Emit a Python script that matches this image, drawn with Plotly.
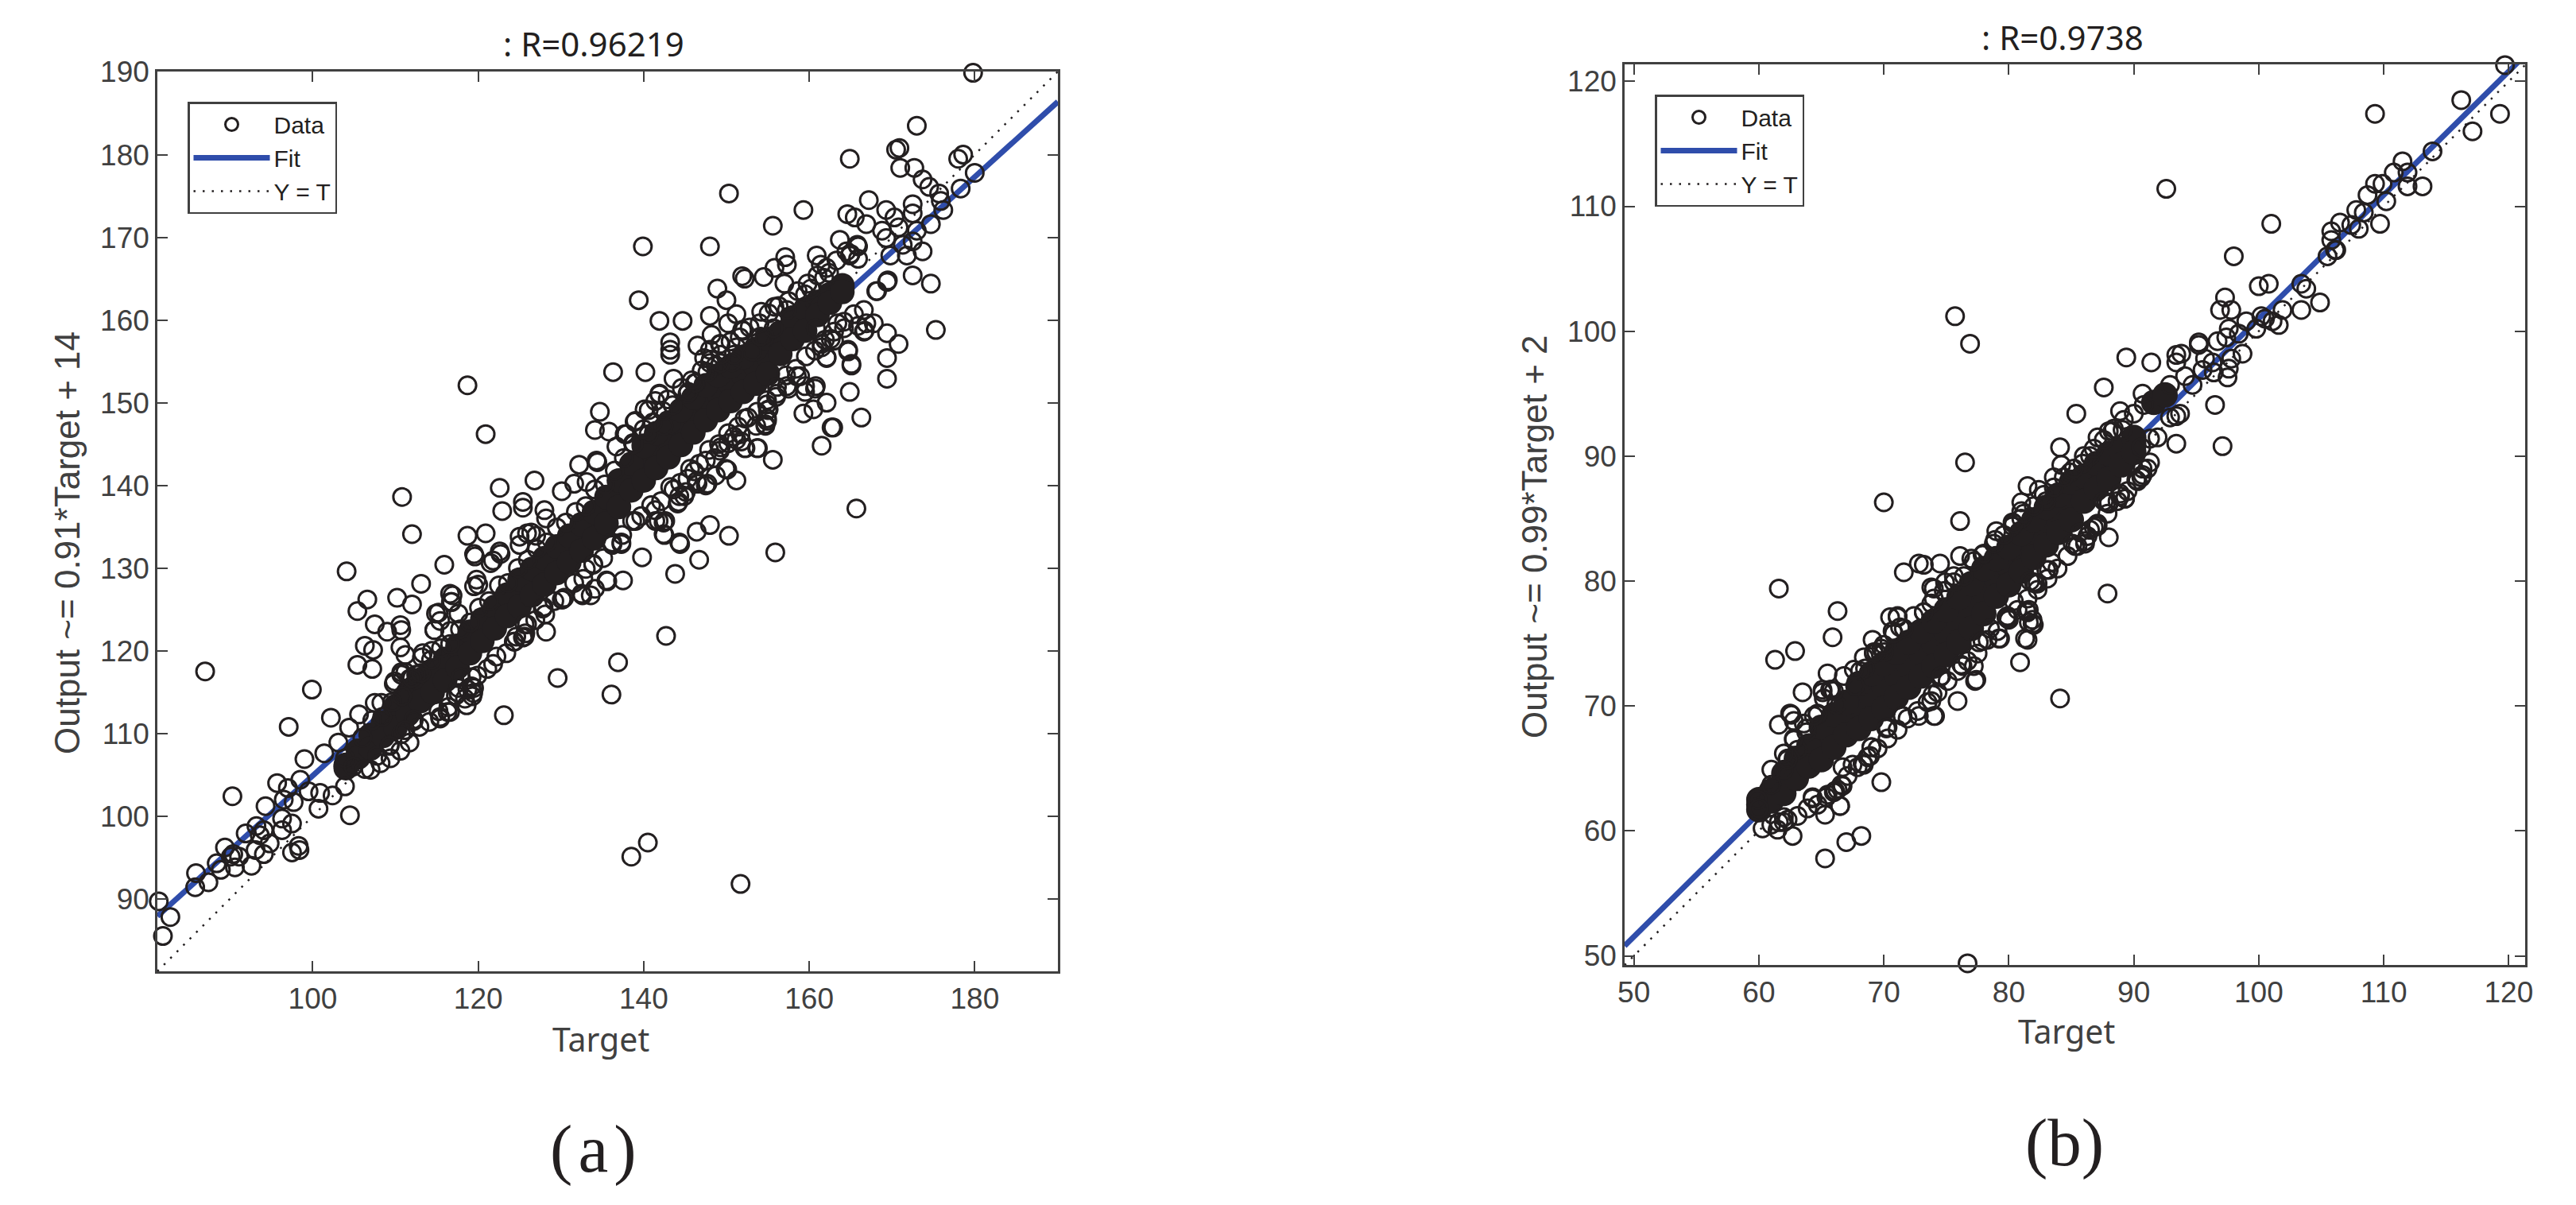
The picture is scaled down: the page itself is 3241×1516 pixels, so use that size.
import plotly.graph_objects as go

W, H = 3241, 1516
PAGE_OFFSET = 8  # the page body margin shifts the figure by this many pixels
INK = "#231f20"
AXIS = "#404040"
BLUE = "#2f4dab"

# ---------- panel (a) values ----------
range_a = [81.23, 190.05]
ticks_a_x = [100, 120, 140, 160, 180]
ticks_a_y = [90, 100, 110, 120, 130, 140, 150, 160, 170, 180, 190]
fit_a_x = [81.23, 190.05]
fit_a_y = [87.9, 186.4]

points_a = [
 (118.7,152.1),(120.9,146.2),(110.8,138.6),(112,134.1),(118.7,133.9),(120.9,134.2),(122.6,139.7),(122.9,136.9),
 (126.8,140.6),(125.4,138),(125.4,137.3),(132.2,142.5),(134.4,142.8),(136.3,153.7),(134.7,148.9),(134.1,146.7),
 (135.8,146.5),(139.4,162.4),(139.9,168.9),(179.8,189.9),(173,183.5),(170.9,180.8),(170.5,180.6),(164.9,179.5),
 (178.6,180),(178,179.5),(180,177.8),(178.3,175.9),(171,178.4),(172.7,178.4),(173.7,177),(174.5,176.1),(175.7,175.3),
 (175.9,174.4),(176.2,173.3),(174.7,171.6),(172.5,174),(172.5,172.9),(167.2,174.5),(169.3,173.3),(164.6,172.8),
 (165.5,172.4),(166.9,171.6),(170.3,172.4),(150.3,175.3),(159.3,173.3),(155.6,171.4),(148,168.9),(163.7,169.7),
 (168.8,170.8),(170.8,171.2),(173,170.8),(165.8,169.1),(173.7,168.3),(169.3,169.9),(171.3,169.1),(172.5,169.5),
 (169.8,167.8),(171.8,167.8),(165.9,167.4),(164.9,167.8),(160.9,167.8),(157.1,167.6),(157.3,166.7),(155.8,166.3),
 (161.4,166.7),(154.5,165.2),(151.9,165.3),(152.2,165),(157,164.4),(148.9,163.8),(150,162.4),(172.5,165.4),
 (174.7,164.4),(169.4,164.6),(168.1,163.5),(175.3,158.8),(169.4,158.4),(170.8,157.1),(169.4,155.4),(169.4,152.9),
 (165.1,154.5),(164.7,156.2),(162.1,155.4),(161.5,156.7),(166.6,158.6),(166.9,159.6),(164.2,159),(163,157.5),
 (160.7,151.7),(159.5,151.3),(164.9,151.3),(162.1,150),(160.5,149.2),(159.3,148.7),(166.3,148.2),(162.9,147),
 (162.7,147),(161.5,144.8),(155.6,143.1),(153.7,144.5),(152.2,144.5),(151.2,145.5),(154.7,147.4),(154.9,148.1),
 (155.1,149.2),(157.5,151.7),(158.5,153.2),(151.2,140.6),(150.1,141.9),(148.7,141.2),(147.7,140.2),(146.5,140.2),
 (165.7,137.2),(148,135.2),(146.4,134.4),(150.3,133.9),(144.3,133.1),(142.5,134),(142.4,135.5),(141.4,135.7),
 (144.1,137.8),(144.9,138.7),(143.6,139.5),(140.2,153.7),(143.6,152.9),(141.9,159.9),(144.7,159.9),(148,160.5),
 (150.2,159.6),(151.2,160.7),(151.9,158.8),(154.2,161),(155.8,161.6),(143.2,157.3),(143.2,156.4),(143.2,155.8),
 (146.5,156.9),(148.2,158.2),(149.2,157.1),(151.2,156.7),(147.3,155.4),(148.7,154.5),(150.7,154.9),(153.1,156.2),
 (154.6,157.9),(141.9,151.1),(145.3,151.1),(140.1,149.2),(141.4,150.2),(146.3,152.4),(147.7,153.7),(137.7,146.2),
 (138.9,147.7),(136.7,144.7),(134.3,143),(130.1,139.3),(131.6,140.2),(133.1,140.4),(138.7,145.1),(140.6,146.2),
 (142.4,147.2),(156.1,151.1),(154.9,149.8),(153.6,147.2),(151.7,146.2),(150.2,145.1),(149.2,144.2),(147.5,143),
 (145.3,140.8),(144.3,138.7),(141.4,137),
 (81.4,89.7),(82.8,87.8),(81.9,85.5),(87,117.5),(85.9,93.1),(85.8,91.4),(87.4,92),(90.3,102.4),(99.9,115.3),
 (97.1,110.8),(102.2,111.9),(99,106.9),(104.1,129.6),(106.6,126.2),(105.4,124.8),(107.5,123.2),(110.2,126.4),
 (112,125.6),(113.1,128.1),(115.9,130.4),(109,122.3),(110.6,123.1),(110.7,122.5),(106.3,120.6),(107.3,120.1),
 (110.6,120.4),(105.4,118.3),(107.2,117.8),(111.2,119.5),(114.7,122.5),(114.9,124.5),(116.9,126.7),(116.7,125.9),
 (115.4,123.6),(110.7,117.1),(109.8,116),(111.7,116.6),(113.2,119.2),(114.4,120),(105.6,112.3),(107.5,113.7),
 (108.3,113.7),(104.4,110.7),(103.1,108.9),(101.4,107.6),(95.7,104),(97,103.4),(98.5,104.4),(94.3,101.2),(96.5,102),
 (97.7,101.7),(99.5,103),(100.9,102.8),(102.4,102.5),(103.9,103.6),(100.7,100.9),(104.5,100.1),(96.3,99.7),(97.5,99.1),
 (96.3,98.3),(98.3,96.4),(97.5,95.6),(98.4,95.9),(93.2,98.8),(94.1,98.3),(93.6,97.7),(94.8,96.7),(94.1,95.4),(91.9,97.9),
 (93.1,95.9),(92.6,94),(89.4,96.2),(88.4,94.3),(88.9,93.5),(90.4,95.4),(90.6,93.8),(90.1,95.1),(91.1,95.1),(103.9,107),
 (104.9,106),(106.3,105.7),(107.8,107.3),(109.3,108.6),(110.7,109.9),(112.2,111.5),(115.4,111.8),(116.6,112.6),
 (118.6,113.4),(119.3,114.5),(119.5,115.5),(117.6,115.5),(121.8,118.4),(124.4,121.1),(125.4,121.6),(128.2,122.3),
 (123.1,112.2),(129.6,116.7),(136.1,114.7),(136.9,118.6),(130.2,126.2),(132.6,126.7),(133.6,126.7),(134.1,127.5),
 (135.6,128.4),(137.5,128.5),(127.9,125.3),(125.9,123.2),(138.5,95.1),(140.5,96.8),(151.7,91.8),(155.9,131.9),
 (142.7,121.8),(139.8,131.3),(143.8,129.3),(146.7,131),(144.4,132.9),(119.6,131.4),(120,128),(121.5,130.6),
 (122.7,131.7),(125,133.8),(126.4,134.3),(117.6,124.5),(116.6,122.4),
 # rings hugging the dense band
 (119.8,128.6),(119.5,127.8),(121.8,130.9),(122.6,132),(119.5,131.7),(125,132.8),(125.9,134.2),(127,133.9),(128.2,136),
 (128,137),(116.6,126.9),(116.8,125.9),(115.2,124.6),(114.7,122.5),(113.3,119.7),(110.7,117.4),(109.9,116.3),(111.2,117.4),
 (112.5,117.1),(125.6,121.7),(124.3,121.1),(125.6,123.2),(127.8,125.1),(130.1,126.2),(132.5,126.9),(135.5,128.5),(133.9,130.5),
 (133,129.9),(136.2,132.9),(137.3,132.9),(139,135.7),(119.2,115.7),(119.4,114.9),(118.4,114.2),(117.3,114.6),(116.3,112.6),
 (115.4,112),(119.2,116.8),(117.9,116.8),(112.2,111.7),(111.2,110.4),(109.3,108.5),
 (137.9,146.2),(139,147.8),(140.6,149.1),(141.9,151),(142.9,150.4),(145.4,151.3),(146.2,152.4),(148,156.4),(149.3,157.1),
 (148,154.8),(149.3,154.8),(150.9,155.8),(152,158.7),(154.1,158),(155.7,159),(157.3,161.2),(159.5,163.1),(160.2,163.8),
 (161.8,165.1),(162.4,165.7),(165,168),(165.9,168.9),(167.8,159.6),(166.7,158.7),(165.9,159.3),(164.7,156.4),(165.1,154.7),
 (162.1,155.5),(161.5,157.1),(162.6,157.7),(163.4,159.6),(160.8,159),(169.5,164.8),(168.2,163.5),(166.6,161.2),(159.5,152),
 (160.8,152),(158.9,153.2),(157.3,152),(156,150.7),(154.9,147.8),(154.7,147.2),(155,149.1),(152.2,148.1),(150.9,145.9),
 (151.8,145.3),(152.3,144.5),(153.8,144.5),(149.9,142),(148.6,143.3),(147.5,140),(146.4,140.5),(145.1,139.2),(144.2,138),
 (142.6,135.7),(141.8,135.7),(142.4,134.1),(137.3,133.1),(136.2,133.1),(146.1,141.7),(149.3,144.6),
 # upper edge of the band
 (106,109.5),(107.2,111.6),(108.4,112),(109.6,113.8),(110.8,114.5),(112,116.7),(113.1,117.3),(114.3,118.9),(115.5,120.3),
 (116.6,120.8),(117.8,122.6),(119,123.4),(120.1,125.2),(121.3,126),(122.5,127.9),(123.6,128.2),(124.8,130),(126,131),
 (127.1,132.3),(128.3,133.1),(129.5,134.9),(130.6,135.5),(131.8,136.8),(133,137.5),(134.1,139.5),(135.3,140.1),(136.5,141.8),
 (137.6,143.3),(138.8,145),(140,146.8),(141.1,147.6),(142.3,149),(143.5,149.7),(144.6,151.8),(145.8,152.7),(147,153.9),
 (148.1,155.2),(149.3,155.8),(150.5,157.4),(151.6,157.9),(152.8,159.1),(154,159.6),(155.1,160.8),(156.3,161.7),(157.5,162.3),
 (158.6,163.5),(159.8,164.4),(161,165.4),(162.1,166.3),(163.3,167.2),(164.5,168.3),
 # lower edge of the band
 (107,105.6),(108.2,106.4),(109.4,107),(110.6,107.9),(111.7,108.9),(112.9,110.8),(114.1,111.4),(115.2,112.7),(116.4,113.2),
 (117.6,114.9),(118.7,115.3),(119.9,117),(121.1,117.8),(122.2,119.3),(123.4,119.7),(124.6,121.7),(125.7,122.1),(126.9,123.7),
 (128.1,124.4),(129.2,126),(130.4,126.4),(131.6,128.2),(132.7,128.7),(133.9,130.4),(135.1,131.2),(136.2,132.8),(137.4,134),
 (138.6,135.7),(139.7,136.3),(140.9,137.6),(142.1,138.1),(143.2,139.8),(144.4,140.3),(145.6,142),(146.7,142.6),(147.9,144.3),
 (149.1,145),(150.2,146.3),(151.4,147.1),(152.6,148.2),(153.7,148.9),(154.9,150.3),(156.1,151.9),(157.2,153.3),(158.4,154.1),
 (159.6,155.6),(160.7,156.3),(161.9,157.6),(163,158.6),(164.2,159.8),(165.4,160.7),
]

core_a_x = [104,105.5,107,108.5,110,111.5,113,114.5,116,117.5,119,120.5,122,123.5,125,126.5,128,129.5,131,132.5,134,
            135.5,137,138.5,140,141.5,143,144.5,146,147.5,149,150.5,152,153.5,155,156.5,158,159.5,161,162.5,164]
core_a_mid = [106,107.5,109,110.5,112,113.6,115.2,116.3,117.7,119.3,121,122.5,124,125.5,127,128.3,129.6,131,132.3,133.7,135.2,
              137,139,141,142.7,144.2,145.5,147,148.5,150,151.2,152.3,153.4,154.4,155.6,157.2,159,160,161.3,162.6,163.8]
core_a_hi = [106.2,107.9,109.8,111.3,113.3,114.9,116.5,117.6,119,120.6,122.3,123.8,125.3,126.8,128.6,129.9,131.2,132.6,133.9,135.3,136.8,
             138.6,140.6,142.6,144.8,146.3,147.6,149.1,150.6,152.1,153.3,154.4,155.5,156.5,157.7,158.5,160.3,161.3,162.2,163.1,164.2]
core_a_lo = [105.8,107.1,108.2,109.7,110.7,112.3,113.9,115,116.4,118,119.7,121.2,122.7,124.2,125.4,126.7,128,129.4,130.7,132.1,133.6,
             135.4,137.4,139.4,140.6,142.1,143.4,144.9,146.4,147.9,149.1,150.2,151.3,152.3,153.5,155.9,157.7,158.7,160.6,162.1,163.4]

# ---------- panel (b) values ----------
range_b_x = [49.26, 121.31]
range_b_y = [49.27, 121.36]
ticks_b = [50, 60, 70, 80, 90, 100, 110, 120]
fit_b_x = [49.26, 121.31]
fit_b_y = [50.8, 122.1]

points_b = [
 (75.7,101.2),(76.9,99),(76.5,89.5),(70,86.3),(76.1,84.8),(84.1,90.7),(81.5,87.6),(82.4,87.3),(81,86.3),(83.6,88.3),
 (84.2,89.3),(79,84),(78.9,83.3),(80.3,84.4),(81,85),
 (119.7,121.3),(116.2,118.5),(109.3,117.4),(119.3,117.4),(117.1,116),(113.9,114.4),(111.5,113.6),(111.9,112.7),
 (110.8,112.7),(111.9,111.6),(113.1,111.6),(109.3,111.8),(109.9,111.8),(108.7,110.9),(110.2,110.4),(107.8,109.7),
 (108.4,109.5),(106.5,108.7),(107.4,108.5),(108,108.2),(109.7,108.6),(105.8,108),(105.8,107.3),(106.1,106.5),
 (106.2,106.5),(105.5,106),(92.6,111.4),(101,108.6),(98,106),(100,103.6),(100.8,103.8),(103.4,103.8),(103.8,103.4),
 (104.9,102.3),(103.4,101.7),(97.3,102.7),(96.9,101.7),(97.8,101.7),(101.9,101.7),(100.2,101.2),(100.5,101),
 (101.1,100.8),(101.6,100.5),(99.8,100.2),(99,100.8),(97.6,100.2),(98.4,99.8),(95.2,99.1),(95.2,98.9),(96.7,99.2),
 (97.4,99.5),(98.7,98.2),(97.8,97.8),(89.4,97.9),(91.4,97.5),(93.4,98.1),(93.8,98.2),(93.4,97.5),(95.7,97.8),(96.3,97.5),
 (97.6,97),(95.5,96.9),(96.4,96.7),(97.5,96.3),(94.1,96.4),(94.7,95.7),(92.9,95.7),(87.6,95.5),(90.7,95),(96.5,94.1),
 (85.4,93.4),(88.9,93.6),(93.4,93.2),(93.7,93.4),(92.9,93.1),(93.4,91),(97.1,90.8),(91.3,91.4),(90.6,90.7),(91.9,91.5),
 (87.1,91.5),(88.3,92),(86.5,90),(91.3,89.5),(90.6,88.3),(90.7,89),(89.3,86.6),(88,86.3),(87.8,86.3),(88.9,86.8),
 (88,83.5),(86.1,83.2),(85.1,83),(87.1,84.4),(86.5,84.1),(85.7,83.9),(87.9,79),(84.1,70.6),(81.9,76.9),(82,76.5),(81.5,75.3),
 (61.6,79.4),(66.3,77.6),(65.9,75.5),(62.9,74.4),(61.3,73.7),(65.5,72.6),(65.1,71.3),(65.7,71.3),(63.5,71.1),(69.1,75.3),
 (70.5,77.1),(71.1,77.1),(71.6,80.7),(72.8,81.4),(73.2,81.3),(74.5,81.4),(76.1,82),(77,81.8),(77.9,82.1),(73.8,79.5),
 (74.9,79.9),(75.6,80.4),(62.6,69.3),(62.8,68.8),(61.6,68.5),(62.8,67.3),(63.8,67.9),(64.7,69.3),(69.2,74.2),(68.5,73),
 (68.1,72.8),(69.8,74.6),(67.7,71.6),(62.3,65.8),(62,64.9),(61,63.7),(59.9,62.5),(60,61.8),(60.3,60.2),(62.7,59.6),(62,61.1),
 (61.6,60.7),(64.3,62.7),(65.4,62.7),(66.7,63.6),(66.1,63.2),(66.5,62),(65.3,61.3),(67,59.1),(68.2,59.6),(65.3,57.8),
 (69.8,63.9),(76.7,49.4),(72.8,69.2),(74.1,69.2),(75.9,70.4),(73.8,70.4),(73.9,70.9),(71.5,69.2),(70.3,68.3),(74.5,72.3),
 (76.3,73.2),(77.2,73.2),(77.4,72.1),(79.3,75.4),(80.9,73.5),(81.3,75.4),(81.6,76.7),(81.9,76.6),(81.4,77.6),
 (77.6,75.1),(79.9,77.2),(82,79.9),(83.2,80.9),(69,66.7),(68.4,65.3),(68.9,66),(67.5,65.3),(66.7,65.1),
 # rings hugging the dense band
 (74,79.4),(73.8,78.2),(73.2,77.5),(71.1,77.2),(70.7,76),(71.3,76.3),(69.4,74.3),(70,74.3),(64.7,69.4),(65.1,71.1),
 (65.8,71.3),(66.2,70.1),(62.5,69.4),(63.8,68.2),(63.1,66.5),(62.3,65.7),(81.5,77.5),(79.2,75.4),(77.9,75.2),(77.3,72),
 (76.2,73.3),(74.6,72.4),(74,69.2),(71.5,69.2),(70.2,68.2),(69,66.7),(68.3,65.4),(66.6,63.7),(66,63.1),(66.5,62),(64.3,62.6),
 (62,60.7),(61,60.5),(82.3,79.8),(83,80.9),(81.7,80),(80.4,78.4),(79.8,77.1),(78.5,76.2),
 (80.3,84.7),(81,85.6),(83,86.4),(84.9,88.7),(85.9,89.4),(88,92),(89.1,92.1),(90.7,88.5),(90.2,88.1),(89.3,86.6),
 (88,86.2),(87.6,86.4),(88.9,87),(87,84.5),(86.8,84.3),(86.1,83),(85.3,82.8),(83.4,81.5),(82.1,79.8),(81.6,77.7),(80,76.9),
 # upper edge of the band
 (61,64.9),(62,66.2),(62.8,67.4),(63.6,68.6),(64.4,69.2),(65.2,70.6),(66,71.2),(66.8,72.4),(67.6,72.9),(68.4,73.9),(69.2,74.3),
 (70,74.9),(70.8,75.8),(71.6,76.2),(72.4,77.2),(73.2,77.5),(74,78.6),(74.8,79.2),(75.6,79.9),(76.4,80.4),(77.2,81.6),(78,82.2),
 (78.8,83),(79.6,83.7),(80.4,84.6),(81.2,85.4),(82,86),(82.8,86.9),(83.6,87.5),(84.4,88.3),(85.2,89),(86,90),(86.8,90.6),
 (87.6,91.3),(88.4,92.2),(89.2,92.9),(90,93.4),(90.8,94.1),
 # lower edge of the band
 (61.5,60.1),(62.3,60.9),(63.1,61.2),(63.9,61.8),(64.7,62.1),(65.5,62.9),(66.3,63.3),(67.1,64.4),(67.9,65.1),(68.7,65.9),
 (69.5,66.6),(70.3,67.4),(71.1,68.1),(71.9,69),(72.7,69.6),(73.5,70.3),(74.3,71.1),(75.1,72),(75.9,72.8),(76.7,73.6),(77.5,74.2),
 (78.3,75.3),(79.1,76),(79.9,77),(80.7,77.7),(81.5,78.6),(82.3,79.3),(83.1,80.2),(83.9,81),(84.7,82),(85.5,82.8),(86.3,83.6),
 (87.1,84.6),(87.9,85.4),(88.7,86.4),(89.5,87.2),(90.3,88),(91.1,89),
]

core_b_x = [60,61,62,63,64,65,66,67,68,69,70,71,72,73,74,75,76,77,78,79,80,81,82,83,84,85,86,87,88,89,90]
core_b_mid = [62.1,62.8,63.8,65,66,67,68,69,70,70.8,71.6,72.5,73.3,74.2,75,75.9,76.9,78,79.2,80.3,81.2,82.3,83.4,84.4,85.4,86.4,87.4,88.4,89.2,89.9,90.9]
core_b_hi = [62.5,63.2,64.6,65.8,66.8,68.3,69.3,70.3,71.8,72.6,73.4,74.3,75.1,76,76.8,77.7,78.7,79.8,81,81.8,82.7,83.8,84.9,85.9,86.9,87.9,88.4,89.4,90.2,90.5,91.5]
core_b_lo = [61.7,62.4,63,64.2,65.2,65.7,66.7,67.7,68.2,69,69.8,70.7,71.5,72.4,73.2,74.1,75.1,76.2,77.4,78.8,79.7,80.8,81.9,82.9,83.9,84.9,86.4,87.4,88.2,89.3,90.3]
blob_b_x = [91.6,92.5]
blob_b_y = [94.3,94.9]

# ---------- text ----------
title_a, title_b = ": R=0.96219", ": R=0.9738"
ylab_a, ylab_b = "Output ~= 0.91*Target + 14", "Output ~= 0.99*Target + 2"
xlab = "Target"
panel_a, panel_b = "(\u200aa\u200a)", "(b)"

fig = go.Figure()


def add_panel(points, fx, fy, refx, refy, legend, strands, core_size):
    fig.add_trace(go.Scatter(x=fx, y=fy, mode="lines", name="Fit", xaxis=refx, yaxis=refy, legend=legend, legendrank=2,
                             line=dict(color=BLUE, width=7)))
    fig.add_trace(go.Scatter(x=fx, y=fx, mode="lines", name="Y = T", xaxis=refx, yaxis=refy,
                             legend=legend, legendrank=3, line=dict(color=INK, width=2.5, dash="2.5px,9px")))
    for sx, sy in strands:
        fig.add_trace(go.Scatter(x=sx, y=sy, mode="markers", xaxis=refx, yaxis=refy, showlegend=False,
                                 hoverinfo="skip", marker=dict(symbol="circle", size=core_size, color=INK, line=dict(width=0))))
    fig.add_trace(go.Scatter(x=[p[0] for p in points], y=[p[1] for p in points], mode="markers", name="Data",
                             xaxis=refx, yaxis=refy, legend=legend, legendrank=1, cliponaxis=False,
                             marker=dict(symbol="circle-open", size=22, color=INK, line=dict(width=3, color=INK))))


add_panel(points_a, fit_a_x, fit_a_y, "x", "y", "legend",
          [(core_a_x, core_a_mid), (core_a_x, core_a_hi), (core_a_x, core_a_lo)], 31)
add_panel(points_b, fit_b_x, fit_b_y, "x2", "y2", "legend2",
          [(core_b_x, core_b_mid), (core_b_x, core_b_hi), (core_b_x, core_b_lo), (blob_b_x, blob_b_y)], 32)


def fx(px):
    return (px - PAGE_OFFSET) / W


def fy(py):
    return 1 - (py - PAGE_OFFSET) / H


def axis(dom, rng, ticks, anchor):
    return dict(domain=dom, range=rng, tickmode="array", tickvals=ticks, ticktext=[str(t) for t in ticks], ticks="inside",
                ticklen=13, tickwidth=2, tickcolor=AXIS, mirror="ticks", showline=True, linecolor=AXIS, linewidth=2.5,
                showgrid=False, zeroline=False, anchor=anchor,
                tickfont=dict(family="Liberation Sans", size=37, color=AXIS))


def legend_box(left, top):
    return dict(x=fx(left), y=fy(top), xanchor="left", yanchor="top", xref="paper", yref="paper", bgcolor="white",
                bordercolor=AXIS, borderwidth=2.5, itemwidth=96, entrywidth=116, entrywidthmode="pixels",
                traceorder="normal", itemclick=False, font=dict(family="Liberation Sans", size=30, color=INK))


def note(text, cx, cy, family, size, color=AXIS, angle=0):
    return dict(text=text, x=fx(cx), y=fy(cy), xref="paper", yref="paper", xanchor="center", yanchor="middle",
                showarrow=False, textangle=angle, font=dict(family=family, size=size, color=color))


fig.update_layout(
    width=W, height=H, margin=dict(l=0, r=0, t=0, b=0, autoexpand=False), paper_bgcolor="white", plot_bgcolor="white",
    xaxis=axis([fx(198), fx(1331)], range_a, ticks_a_x, "y"),
    yaxis=axis([fy(1222), fy(90)], range_a, ticks_a_y, "x"),
    xaxis2=axis([fx(2044), fx(3177)], range_b_x, ticks_b, "y2"),
    yaxis2=axis([fy(1214), fy(81)], range_b_y, ticks_b, "x2"),
    legend=legend_box(236, 128),
    legend2=legend_box(2082, 119),
    annotations=[
        note(title_a, 747, 54, "Noto Sans", 42, INK),
        note(title_b, 2595, 47, "Noto Sans", 42, INK),
        note(xlab, 756, 1307, "Noto Sans", 41),
        note(xlab, 2600, 1297, "Noto Sans", 41),
        note(ylab_a, 84, 683, "Liberation Sans", 44, angle=-90),
        note(ylab_b, 1930, 675, "Liberation Sans", 44, angle=-90),
        note(panel_a, 746, 1445, "Liberation Serif", 85, INK),
        note(panel_b, 2597, 1437, "Liberation Serif", 85, INK),
    ],
)

fig.write_html("out.html")
